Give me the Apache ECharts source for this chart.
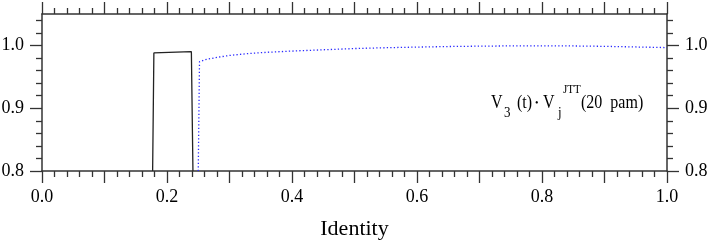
<!DOCTYPE html>
<html>
<head>
<meta charset="utf-8">
<script src="https://cdn.jsdelivr.net/npm/echarts@6/dist/echarts.min.js"></script>
<style>html,body{margin:0;padding:0;background:#fff;}#c{width:708px;height:241px;}</style>
</head>
<body>
<div id="c"></div>
<script>
// Data
var blackX = [0.177, 0.179, 0.239, 0.2415];
var blackY = [0.800, 0.988, 0.990, 0.800];
var blueX = [0.250, 0.252, 0.26, 0.28, 0.30, 0.33, 0.36, 0.40, 0.45, 0.50, 0.55, 0.60, 0.65, 0.70, 0.75, 0.80, 0.85, 0.90, 0.95, 1.00];
var blueY = [0.800, 0.974, 0.977, 0.981, 0.984, 0.987, 0.989, 0.991, 0.993, 0.995, 0.9963, 0.9973, 0.9982, 0.9988, 0.9992, 0.9993, 0.9991, 0.9985, 0.9975, 0.9965];
var xLabelValues = [0.0, 0.2, 0.4, 0.6, 0.8, 1.0];
var yMajorTicks = [0.8, 0.9, 1.0];
var yMinorTicks = [0.82, 0.84, 0.86, 0.88, 0.92, 0.94, 0.96, 0.98, 1.02, 1.04];
var xAxisTitle = 'Identity';

var FONT = 'Liberation Serif';
var AX = '#333';
function pairs(xs, ys) { return xs.map(function (x, i) { return [x, ys[i]]; }); }

var chart = echarts.init(document.getElementById('c'), null, { renderer: 'canvas' });

function xAxisCfg(pos, labels) {
  return {
    type: 'value', position: pos, min: 0, max: 1, interval: 0.1,
    axisLine: { show: true, onZero: false, lineStyle: { color: AX, width: 1.5 } },
    axisTick: { show: true, inside: false, length: 12, lineStyle: { color: AX, width: 1.3 } },
    minorTick: { show: true, splitNumber: 5, length: 6, lineStyle: { color: AX, width: 1.3 } },
    splitLine: { show: false }, minorSplitLine: { show: false },
    axisLabel: labels ? { show: true, customValues: xLabelValues, margin: 17, fontFamily: FONT, fontSize: 18, color: '#000',
      formatter: function (v) { return v.toFixed(1); } } : { show: false },
    name: labels ? xAxisTitle : '', nameLocation: 'middle', nameGap: 47,
    nameTextStyle: { fontFamily: FONT, fontSize: 22, color: '#000' }
  };
}
function yAxisCfg(pos, major) {
  return {
    type: 'value', position: pos, min: 0.8, max: 1.05, offset: 0,
    axisLine: { show: major, onZero: false, lineStyle: { color: AX, width: 1.5 } },
    axisTick: { show: true, inside: false, length: major ? 12 : 6, customValues: major ? yMajorTicks : yMinorTicks,
      lineStyle: { color: AX, width: 1.3 } },
    splitLine: { show: false },
    axisLabel: major ? { show: true, customValues: yMajorTicks, margin: 18, fontFamily: FONT, fontSize: 18, color: '#000',
      formatter: function (v) { return v.toFixed(1); } } : { show: false }
  };
}

var SY = 1.22;
chart.setOption({
  animation: false,
  backgroundColor: '#fff',
  grid: { left: 42, right: 41, top: 14, bottom: 70, containLabel: false, outerBoundsMode: 'none' },
  xAxis: [xAxisCfg('bottom', true), xAxisCfg('top', false)],
  yAxis: [yAxisCfg('left', true), yAxisCfg('left', false), yAxisCfg('right', true), yAxisCfg('right', false)],
  series: [
    { type: 'line', xAxisIndex: 0, yAxisIndex: 0, data: pairs(blackX, blackY), showSymbol: false, symbol: 'none',
      lineStyle: { color: '#222', width: 1.3 }, clip: true },
    { type: 'line', xAxisIndex: 0, yAxisIndex: 0, data: pairs(blueX, blueY), showSymbol: false, symbol: 'none', smooth: false,
      lineStyle: { color: '#2a2aff', width: 1.3, type: [1.3, 2.2] }, clip: true }
  ],
  graphic: [
    { type: 'text', left: 491, top: 93, scaleY: SY, style: { text: 'V', font: '16px ' + FONT, fill: '#000' } },
    { type: 'text', left: 504, top: 106, scaleY: 1.15, style: { text: '3', font: '13px ' + FONT, fill: '#000' } },
    { type: 'text', left: 517, top: 93, scaleY: SY, style: { text: '(t)', font: '16px ' + FONT, fill: '#000' } },
    { type: 'text', left: 535, top: 98, style: { text: '•', font: '10px ' + FONT, fill: '#000' } },
    { type: 'text', left: 543, top: 93, scaleY: SY, style: { text: 'V', font: '16px ' + FONT, fill: '#000' } },
    { type: 'text', left: 558, top: 106, scaleY: 1.15, style: { text: 'j', font: '13px ' + FONT, fill: '#000' } },
    { type: 'text', left: 563, top: 83, scaleY: 1.15, style: { text: 'JTT', font: '11px ' + FONT, fill: '#000' } },
    { type: 'text', left: 581, top: 93, scaleY: SY, style: { text: '(20  pam)', font: '16px ' + FONT, fill: '#000' } }
  ]
});
</script>
</body>
</html>
